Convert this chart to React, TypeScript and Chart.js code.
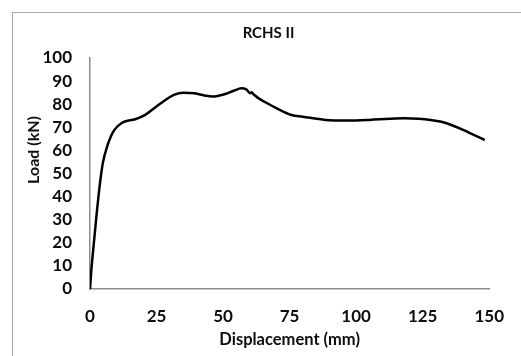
import React, { useEffect, useRef } from "react";
import { Chart, registerables } from "chart.js";

Chart.register(...registerables);

const chartTitle = "RCHS II";
const xAxisTitle = "Displacement (mm)";
const yAxisTitle = "Load (kN)";
const xTicks = [0, 25, 50, 75, 100, 125, 150];
const yTicks = [0, 10, 20, 30, 40, 50, 60, 70, 80, 90, 100];

const displacement = [0, 0.5, 1.2, 2.4, 3.6, 4.8, 6.6, 9.1, 12.1, 17, 20.6, 26.6, 31.5, 35.1, 39.3, 43, 46, 50.8, 54, 56.9, 58.7, 60.3, 60.8, 61.4, 66.6, 70.2, 75.7, 79.9, 88.4, 96.9, 105, 112.6, 118, 123.5, 128, 132, 136, 140.4, 144, 148.3];
const load = [0, 8, 16.9, 31.3, 44.3, 54.4, 62.3, 68.8, 72, 73.5, 75.3, 80.4, 84, 85, 84.7, 83.8, 83.3, 84.4, 85.8, 86.9, 86.4, 84.7, 85.2, 84.3, 80.4, 78.2, 75.3, 74.6, 73.2, 72.9, 73.2, 73.7, 73.9, 73.7, 73.2, 72.4, 70.9, 68.8, 66.8, 64.5];

const FONT = "Lato, 'Open Sans', sans-serif";
const TEXT = "#0d0d0d";

export default function App() {
  const ref = useRef<HTMLCanvasElement | null>(null);

  useEffect(() => {
    if (!ref.current) return;
    const yTitlePlugin = {
      id: "yTitlePlugin",
      afterDraw(chart: any) {
        const ctx = chart.ctx;
        ctx.save();
        ctx.translate(34, 150);
        ctx.rotate(-Math.PI / 2);
        ctx.font = `bold 16px ${FONT}`;
        ctx.fillStyle = TEXT;
        ctx.textAlign = "center";
        ctx.textBaseline = "middle";
        ctx.fillText(yAxisTitle, 0, 0);
        ctx.restore();
      },
    };
    const chart = new Chart(ref.current, {
      type: "line",
      data: {
        datasets: [
          {
            data: displacement.map((x, i) => ({ x, y: load[i] })),
            borderColor: "#000000",
            borderWidth: 2.5,
            pointRadius: 0,
            cubicInterpolationMode: "monotone",
            fill: false,
          },
        ],
      },
      options: {
        animation: false,
        responsive: false,
        layout: { padding: { left: 34, right: 18, top: 0, bottom: 0 } },
        plugins: {
          legend: { display: false },
          tooltip: { enabled: false },
          title: {
            display: true,
            text: chartTitle,
            color: TEXT,
            font: { family: FONT, size: 15, weight: "bold", lineHeight: 1.2 },
            padding: { top: 24, bottom: 16 },
          },
        },
        scales: {
          x: {
            type: "linear",
            min: 0,
            max: 150,
            afterBuildTicks: (s: any) => {
              s.ticks = xTicks.map((v) => ({ value: v }));
            },
            afterFit: (s: any) => {
              s.height = 67;
            },
            grid: { display: false, drawTicks: false },
            border: { display: true, color: "#8c8c8c", width: 1.5 },
            ticks: {
              color: TEXT,
              padding: 17,
              maxRotation: 0,
              autoSkip: false,
              font: { family: FONT, size: 17, weight: "bold" },
            },
            title: {
              display: true,
              text: xAxisTitle,
              color: TEXT,
              font: { family: FONT, size: 16.5, weight: "bold", lineHeight: 1.2 },
              padding: { top: 0, bottom: 6 },
            },
          },
          y: {
            type: "linear",
            min: 0,
            max: 100,
            afterBuildTicks: (s: any) => {
              s.ticks = yTicks.map((v) => ({ value: v }));
            },
            afterFit: (s: any) => {
              s.width = 56;
            },
            grid: { display: false, drawTicks: false },
            border: { display: true, color: "#8c8c8c", width: 1.5 },
            ticks: {
              color: TEXT,
              padding: 18,
              autoSkip: false,
              font: { family: FONT, size: 17, weight: "bold" },
            },
          },
        },
      },
      plugins: [yTitlePlugin],
    } as any);
    return () => chart.destroy();
  }, []);

  return (
    <div
      style={{
        position: "fixed",
        left: 0,
        top: 0,
        width: 521,
        height: 356,
        overflow: "hidden",
        background: "#ffffff",
      }}
    >
      <div
        style={{
          position: "absolute",
          left: 12,
          top: 12,
          width: 540,
          height: 380,
          border: "1px solid #a6a6a6",
        }}
      />
      <canvas
        ref={ref}
        width={521}
        height={356}
        style={{ position: "absolute", left: 0, top: 0, width: 521, height: 356 }}
      />
    </div>
  );
}
